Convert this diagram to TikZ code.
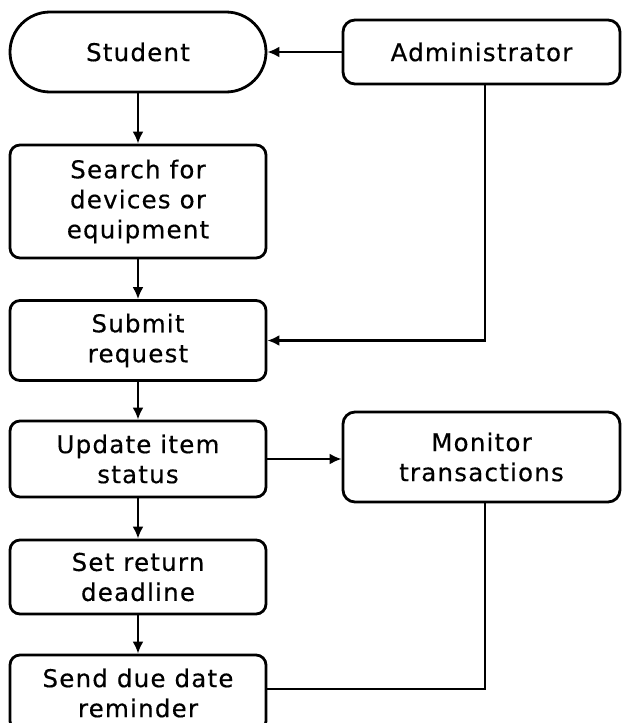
\documentclass[tikz,border=0pt]{standalone}
\usepackage{fontspec}
\setmainfont[LetterSpace=5,FakeBold=0.4]{DejaVu Sans}
\usetikzlibrary{arrows.meta}
\begin{document}
\begin{tikzpicture}[x=1pt,y=1pt,
  every node/.style={font=\fontsize{24.5}{30}\selectfont, align=center, inner sep=0pt},
  box/.style={draw, line width=2.8pt, rounded corners=10pt, minimum width=256pt},
  wide/.style={draw, line width=2.8pt, rounded corners=12pt, minimum width=277pt},
  term/.style={draw, line width=2.8pt, rounded corners=40pt, minimum width=256pt, minimum height=80pt},
  link/.style={line width=2.8pt},
  flow/.style={link, -{Latex[length=12pt,width=11pt]}}]
  \fill[white] (0,0) rectangle (622,-723);
  \useasboundingbox (0,0) rectangle (622,-723);
  \clip (0,0) rectangle (622,-723);
  % left column
  \node[term] (student) at (138,-52) {Student};
  \node[box, minimum height=113pt] (search) at (138,-201.5) {Search for\\devices or\\equipment};
  \node[box, minimum height=80pt] (submit) at (138,-340.5) {Submit\\request};
  \node[box, minimum height=76pt] (update) at (138,-459) {Update item\\status};
  \node[box, minimum height=74pt] (deadline) at (138,-577) {Set return\\deadline};
  \node[box, minimum height=76pt] (remind) at (138,-693) {Send due date\\reminder};
  % right column
  \node[wide, minimum height=64pt] (admin) at (481.5,-52) {Administrator};
  \node[wide, minimum height=90pt] (monitor) at (481.5,-457) {Monitor\\transactions};
  % main flow
  \draw[flow] (student) -- (search);
  \draw[flow] (search) -- (submit);
  \draw[flow] (submit) -- (update);
  \draw[flow] (update) -- (deadline);
  \draw[flow] (deadline) -- (remind);
  % side links
  \draw[flow] (admin) -- (student);
  \draw[flow] ([xshift=3.5pt]admin.south) |- (submit.east);
  \draw[flow] (update.east) -- (update.east -| monitor.west);
  \draw[link] ([xshift=3.5pt]monitor.south) |- ([yshift=4pt]remind.east);
\end{tikzpicture}
\end{document}
